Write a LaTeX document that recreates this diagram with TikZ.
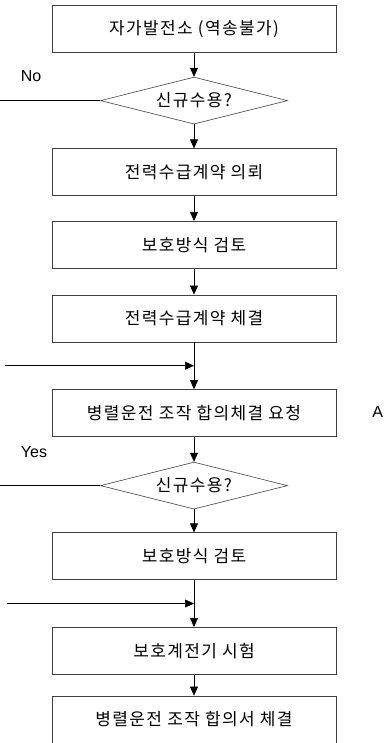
\documentclass[tikz,border=0pt]{standalone}
\usepackage{fontspec}
\setmainfont{Liberation Sans}
\newfontfamily\kr[LetterSpace=8]{Noto Sans CJK KR}
\usetikzlibrary{arrows.meta,calc,positioning,shapes.geometric}

\begin{document}
\begin{tikzpicture}[x=1pt,y=-1pt,node distance=24pt,line width=0.6pt,
  >={Triangle[length=9pt,width=8pt]},
  box/.style={draw=black!75,minimum width=284pt,minimum height=47pt,font=\kr\fontsize{17}{19}\selectfont},
  ask/.style={draw=black!75,diamond,aspect=4,minimum width=187pt,minimum height=47pt,inner sep=0pt,font=\kr\fontsize{17}{19}\selectfont},
  lab/.style={font=\fontsize{16}{18}\selectfont}]
\useasboundingbox (0,0) rectangle (383,743);
\node[box] (S1) at (194,29) {자가발전소 (역송불가)};
\node[ask] (Q1) [below=of S1] {신규수용?};
\node[box] (S2) [below=of Q1] {전력수급계약 의뢰};
\node[box] (S3) [below=25pt of S2] {보호방식 검토};
\node[box] (S4) [below=26pt of S3] {전력수급계약 체결};
\node[box] (S5) [below=47pt of S4] {병렬운전 조작 합의체결 요청};
\node[ask] (Q2) [below=25pt of S5] {신규수용?};
\node[box] (S6) [below=23pt of Q2] {보호방식 검토};
\node[box] (S7) [below=47pt of S6] {보호계전기 시험};
\node[box] (S8) [below=21pt of S7] {병렬운전 조작 합의서 체결};

\node[lab] (No) at (31,76) {No};
\node[lab] (Yes) at (34,452) {Yes};
\node[lab,anchor=west,inner sep=0pt] (A) at (372,412) {A};

\coordinate (L1) at (0,0 |- Q1.west);
\coordinate (L2) at (0,0 |- Q2.west);
\coordinate (M1) at ($(S4.south)!0.5!(S5.north)$);
\coordinate (M2) at ($(S6.south)!0.5!(S7.north)$);
\coordinate (E1) at (5,0 |- M1);
\coordinate (E2) at (7,0 |- M2);

\draw[->] (S1) -- (Q1);
\draw[->] (Q1) -- (S2);
\draw[->] (S2) -- (S3);
\draw[->] (S3) -- (S4);
\draw[->] (S4) -- (S5);
\draw[->] (S5) -- (Q2);
\draw[->] (Q2) -- (S6);
\draw[->] (S6) -- (S7);
\draw[->] (S7) -- (S8);

\draw (Q1.west) -- (L1);
\draw (Q2.west) -- (L2);
\draw[->] (E1) -- (M1);
\draw[->] (E2) -- (M2);

\end{tikzpicture}
\end{document}
